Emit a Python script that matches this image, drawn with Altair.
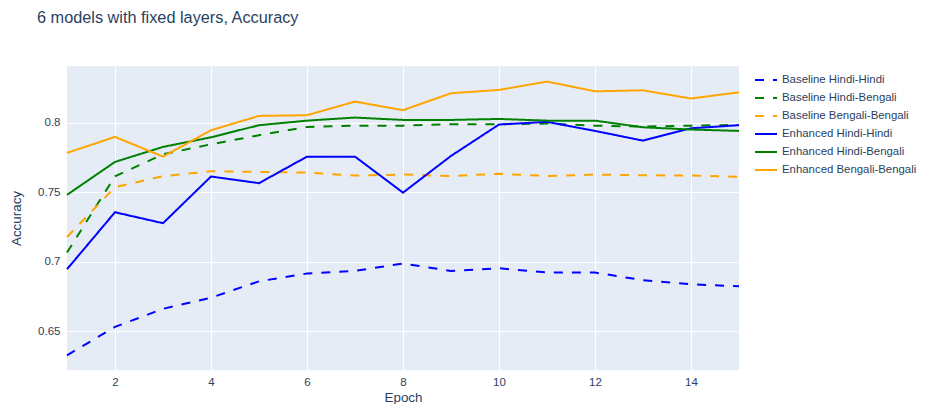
import altair as alt
import pandas as pd

epochs = list(range(1, 16))
series_names = [
    "Baseline Hindi-Hindi",
    "Baseline Hindi-Bengali",
    "Baseline Bengali-Bengali",
    "Enhanced Hindi-Hindi",
    "Enhanced Hindi-Bengali",
    "Enhanced Bengali-Bengali",
]
baseline_hi_hi = [0.6326, 0.653, 0.666, 0.674, 0.6858, 0.6914, 0.6933, 0.6986, 0.6933, 0.6952, 0.6921, 0.6921, 0.6866, 0.6837, 0.6822]
baseline_hi_bn = [0.7065, 0.7614, 0.7772, 0.7844, 0.7909, 0.7969, 0.7978, 0.7978, 0.7988, 0.7988, 0.7993, 0.7978, 0.7971, 0.7978, 0.7983]
baseline_bn_bn = [0.7177, 0.7535, 0.7614, 0.765, 0.7645, 0.764, 0.7619, 0.7626, 0.7616, 0.7631, 0.7616, 0.7626, 0.7621, 0.7619, 0.7609]
enhanced_hi_hi = [0.6945, 0.7355, 0.7276, 0.7612, 0.7564, 0.7755, 0.7755, 0.7496, 0.776, 0.7986, 0.8005, 0.794, 0.787, 0.7959, 0.7981]
enhanced_hi_bn = [0.748, 0.7717, 0.7825, 0.7894, 0.7981, 0.8014, 0.8036, 0.8019, 0.8019, 0.8026, 0.8014, 0.8014, 0.7966, 0.795, 0.794]
enhanced_bn_bn = [0.7782, 0.7897, 0.7755, 0.7945, 0.8048, 0.8053, 0.8151, 0.8089, 0.8211, 0.8235, 0.8295, 0.8225, 0.8232, 0.8173, 0.8218]

all_series = [baseline_hi_hi, baseline_hi_bn, baseline_bn_bn, enhanced_hi_hi, enhanced_hi_bn, enhanced_bn_bn]
colors = ["blue", "green", "orange", "blue", "green", "orange"]
dashes = [[9, 9], [9, 9], [9, 9], [1, 0], [1, 0], [1, 0]]
y_ticks = [0.65, 0.7, 0.75, 0.8]
x_ticks = [2, 4, 6, 8, 10, 12, 14]

rows = []
for name, vals in zip(series_names, all_series):
    for e, v in zip(epochs, vals):
        rows.append({"Epoch": e, "Accuracy": v, "Model": name})
df = pd.DataFrame(rows)

FONT = "Liberation Sans"
TXT = "#2a3f5f"

chart = alt.Chart(df).mark_line(strokeWidth=2).encode(
    x=alt.X("Epoch:Q", scale=alt.Scale(domain=[1, 15], nice=False, zero=False),
            axis=alt.Axis(values=x_ticks, title="Epoch", titleY=27, titleBaseline="middle",
                          labelPadding=6)),
    y=alt.Y("Accuracy:Q", scale=alt.Scale(domain=[0.622, 0.8407], nice=False, zero=False),
            axis=alt.Axis(values=y_ticks, format=".2~f", title="Accuracy",
                          titleX=-51, titleY=152, titleBaseline="middle", titleAngle=-90,
                          titleAlign="center", labelPadding=7)),
    color=alt.Color("Model:N", scale=alt.Scale(domain=series_names, range=colors),
                    sort=series_names, legend=alt.Legend(title=None)),
    strokeDash=alt.StrokeDash("Model:N", scale=alt.Scale(domain=series_names, range=dashes),
                              sort=series_names, legend=alt.Legend(title=None)),
    order=alt.Order("Epoch:Q"),
).properties(
    width=672,
    height=304,
    title=alt.TitleParams("6 models with fixed layers, Accuracy", anchor="start", frame="group",
                          dx=-30, offset=40, fontSize=16.3, font=FONT, color=TXT, fontWeight="normal"),
    autosize=alt.AutoSizeParams(type="none"),
    padding={"left": 59, "top": 58, "right": 178, "bottom": 34},
).configure_view(
    fill="#E5ECF6", stroke=None
).configure_axis(
    domain=False, ticks=False, grid=True, gridColor="white", gridWidth=1,
    labelFont=FONT, labelFontSize=11.5, labelColor=TXT,
    titleFont=FONT, titleFontSize=13.4, titleColor=TXT, titleFontWeight="normal",
).configure_legend(
    orient="none", legendX=687, legendY=2,
    labelFont=FONT, labelFontSize=11.4, labelColor=TXT,
    symbolType="stroke", symbolStrokeWidth=2, symbolSize=484, labelOffset=4,
    rowPadding=0,
)

chart.save("out.html", embed_options={"renderer": "svg", "actions": False})
